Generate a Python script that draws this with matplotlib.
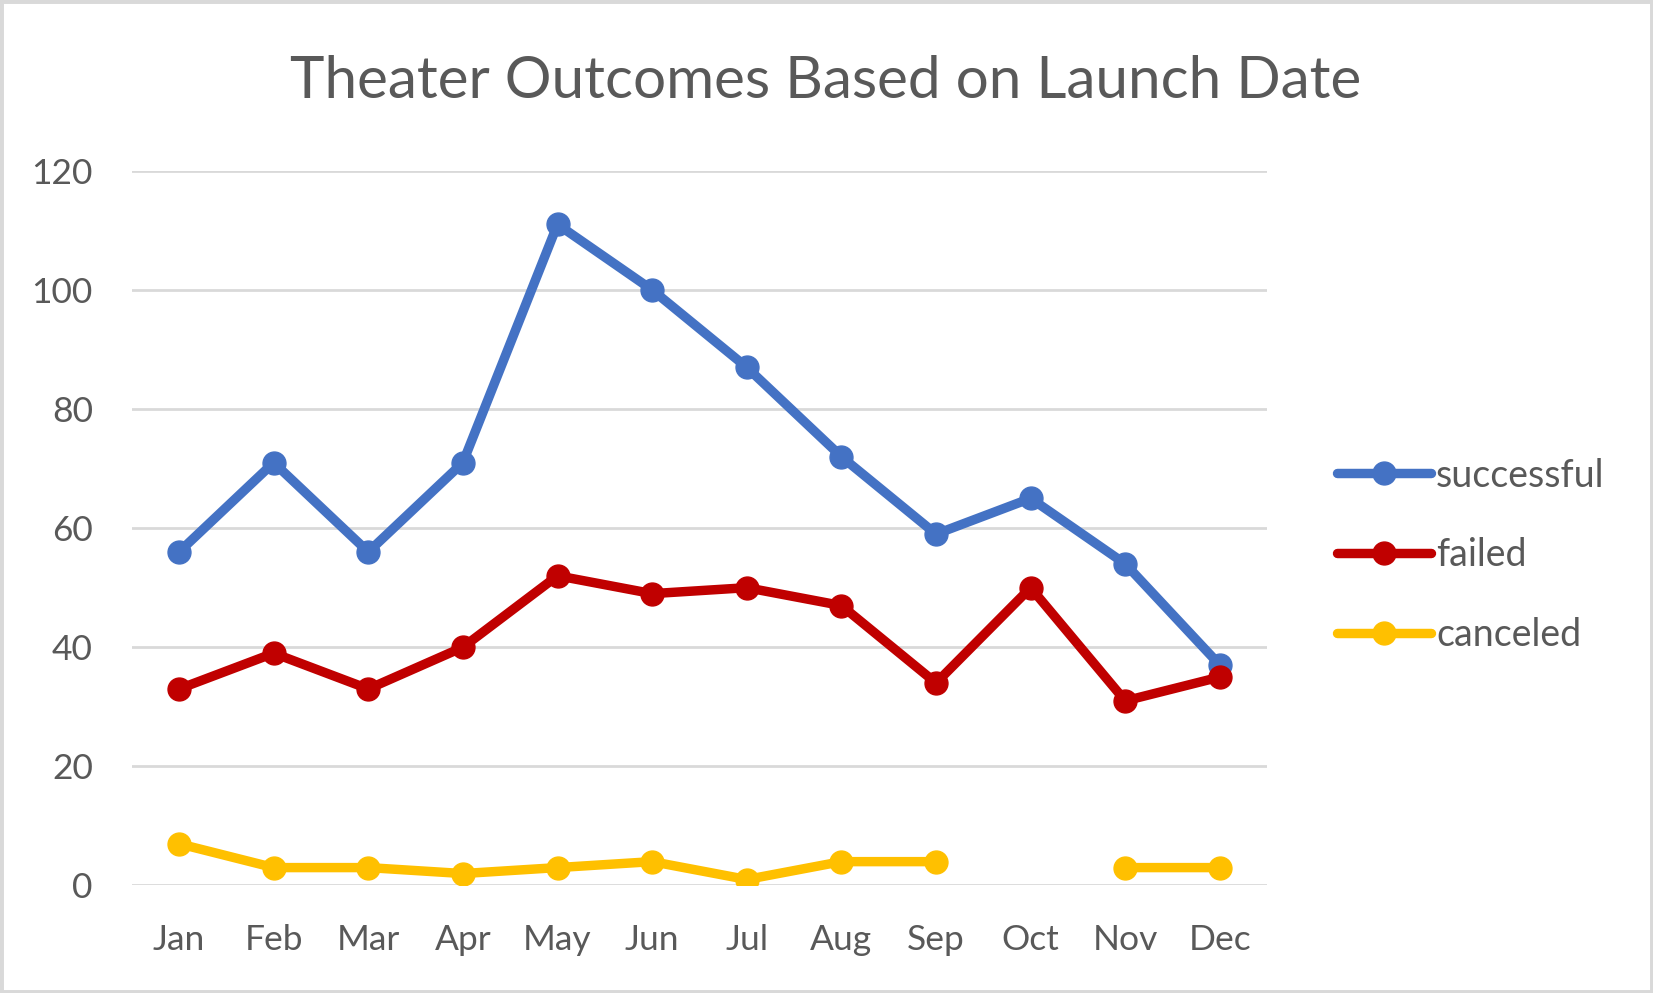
import numpy as np
import matplotlib
matplotlib.use("Agg")
import matplotlib.pyplot as plt
from matplotlib.patches import Rectangle

# ----------------------------
# data
# ----------------------------
months = ["Jan", "Feb", "Mar", "Apr", "May", "Jun",
          "Jul", "Aug", "Sep", "Oct", "Nov", "Dec"]
successful = [56, 71, 56, 71, 111, 100, 87, 72, 59, 65, 54, 37]
failed = [33, 39, 33, 40, 52, 49, 50, 47, 34, 50, 31, 35]
canceled = [7, 3, 3, 2, 3, 4, 1, 4, 4, np.nan, 3, 3]

series = [
    ("successful", successful, "#4472C4"),
    ("failed", failed, "#C00000"),
    ("canceled", canceled, "#FFC000"),
]

TEXT = "#595959"
GRID = "#D9D9D9"
plt.rcParams['font.family'] = ['Lato', 'DejaVu Sans']

fig = plt.figure(figsize=(16.53, 9.93), dpi=100)
ax = fig.add_axes([0.0797, 0.1083, 0.7666 - 0.0797, 0.828 - 0.1083])

x = np.arange(len(months))
for name, vals, col in series:
    ax.plot(x, vals, color=col, lw=6.8, marker="o", ms=16.5,
            solid_capstyle="round", label=name, zorder=3)

ax.set_xlim(-0.5, len(months) - 0.5)
ax.set_ylim(0, 120)
ax.set_yticks(range(0, 121, 20))
ax.set_xticks(x)
ax.set_xticklabels(months)
ax.grid(axis="y", color=GRID, lw=2)
ax.set_axisbelow(True)
for s in ax.spines.values():
    s.set_visible(False)
ax.tick_params(axis="both", length=0, labelsize=25.5, labelcolor=TEXT)
ax.tick_params(axis="y", pad=28)
ax.tick_params(axis="x", pad=28)

fig.text(0.4995, 0.918, "Theater Outcomes Based on Launch Date",
         ha="center", va="center", fontsize=42, color=TEXT)

leg = ax.legend(loc="center left", bbox_to_anchor=(0.8087, 0.4406),
                bbox_transform=fig.transFigure, frameon=False,
                borderaxespad=0, borderpad=0, handlelength=2.5,
                handletextpad=0.15, labelspacing=1.17, fontsize=27)
for t in leg.get_texts():
    t.set_color(TEXT)

# light grey chart border
fig.add_artist(Rectangle((0, 0), 1, 1, transform=fig.transFigure,
                         fill=False, ec=GRID, lw=5))

fig.savefig("out.png", dpi=100)
